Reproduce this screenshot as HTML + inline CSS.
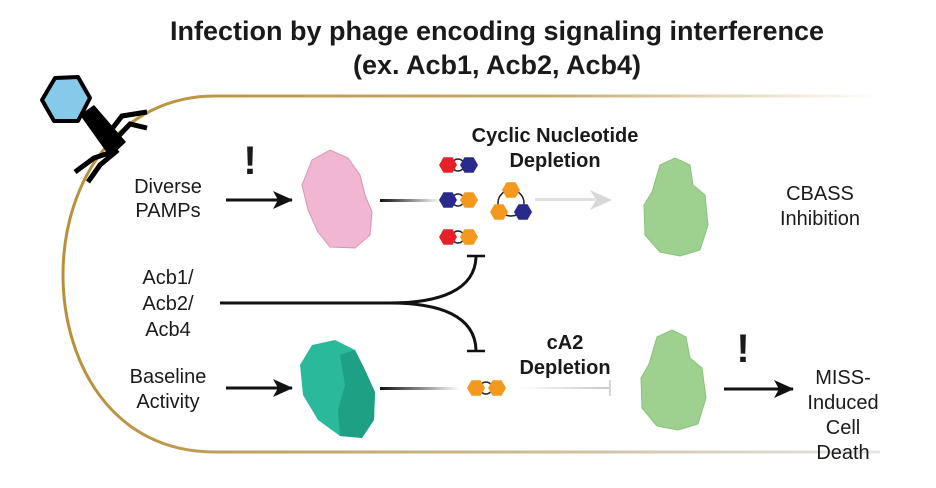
<!DOCTYPE html>
<html><head><meta charset="utf-8"><style>
html,body{margin:0;padding:0;background:#fff;}
svg{display:block;}
text{font-family:"Liberation Sans",Arial,sans-serif;fill:#1a1a1a;}
</style></head><body>
<svg width="936" height="488" viewBox="0 0 936 488" xmlns="http://www.w3.org/2000/svg">
<defs>
<linearGradient id="gTop" x1="0" x2="1" y1="0" y2="0">
<stop offset="0" stop-color="#b8903a"/><stop offset="0.6" stop-color="#c7ab6e"/><stop offset="1" stop-color="#ffffff"/></linearGradient>
<linearGradient id="gBot" x1="0" x2="1"><stop offset="0" stop-color="#b8903a"/><stop offset="0.5" stop-color="#c9b48a"/><stop offset="1" stop-color="#e6e6e6"/></linearGradient>
<linearGradient id="fade" x1="0" x2="1"><stop offset="0" stop-color="#111"/><stop offset="1" stop-color="#fff"/></linearGradient>
<linearGradient id="fadeG" x1="0" x2="1"><stop offset="0" stop-color="#fff"/><stop offset="1" stop-color="#c8c8c8"/></linearGradient>
<polygon id="hx" points="9,0 4.5,7.8 -4.5,7.8 -9,0 -4.5,-7.8 4.5,-7.8"/>
<marker id="ah" markerWidth="20" markerHeight="18" refX="19" refY="9" orient="auto" markerUnits="userSpaceOnUse"><path d="M0,0 L20,9 L0,18 L5,9z" fill="#111"/></marker>
</defs>

<text x="497" y="40" font-size="27" font-weight="bold" text-anchor="middle">Infection by phage encoding signaling interference</text>
<text x="497" y="74" font-size="27" font-weight="bold" text-anchor="middle">(ex. Acb1, Acb2, Acb4)</text>

<!-- cell -->
<path d="M880,96 L215,96 C120,96 63,180 63,275" fill="none" stroke="url(#gTop)" stroke-width="3"/>
<path d="M63,275 C63,360 110,452 215,452 L880,452" fill="none" stroke="url(#gBot)" stroke-width="3"/>

<!-- phage -->
<polygon points="55,78 78,77 90,98 78,121 54,121 42,100" fill="#86c9e8" stroke="#000" stroke-width="4" stroke-linejoin="round"/>
<polygon points="80,115 94,105 126,142 110,157" fill="#000"/>
<path d="M108,134 L122,116 L147,112 M115,140 L130,124 L147,128 M112,152 L94,158 L75,172 M118,150 L100,165 L88,182" stroke="#000" stroke-width="5" fill="none" stroke-linejoin="miter"/>

<!-- Top row -->
<text x="168" y="193" font-size="20" text-anchor="middle">Diverse</text>
<text x="168" y="217" font-size="20" text-anchor="middle">PAMPs</text>
<text x="250" y="174" font-size="40" font-weight="bold" text-anchor="middle">!</text>
<line x1="226" y1="200" x2="292" y2="200" stroke="#111" stroke-width="3" marker-end="url(#ah)"/>
<path d="M312,160 L330,150 L348,158 L360,175 L365,195 L372,212 L370,235 L355,248 L330,247 L318,232 L308,210 L302,185 Z" fill="#f1b6d2" stroke="#d495b3" stroke-width="1"/>
<rect x="380" y="199" width="60" height="3" fill="url(#fade)"/>
<g fill="none" stroke="#222" stroke-width="1.5"><circle cx="458" cy="165" r="6"/><circle cx="458" cy="200" r="6"/><circle cx="458" cy="237" r="6"/><circle cx="511" cy="203" r="13"/></g>
<use href="#hx" x="448" y="165" fill="#e8202a"/><use href="#hx" x="469" y="165" fill="#2a2a8c"/>
<use href="#hx" x="448" y="200" fill="#2a2a8c"/><use href="#hx" x="469" y="200" fill="#f39a1e"/>
<use href="#hx" x="448" y="237" fill="#e8202a"/><use href="#hx" x="469" y="237" fill="#f39a1e"/>
<use href="#hx" x="511" y="190" fill="#f39a1e"/><use href="#hx" x="499" y="212" fill="#f39a1e"/><use href="#hx" x="523" y="212" fill="#2a2a8c"/>
<text x="555" y="142" font-size="20" font-weight="bold" text-anchor="middle">Cyclic Nucleotide</text>
<text x="555" y="167" font-size="20" font-weight="bold" text-anchor="middle">Depletion</text>
<rect x="535" y="198" width="60" height="3" fill="#e0e0e0"/>
<path d="M590,190 L612,200 L590,210 L596,200z" fill="#d8d8d8"/>
<path d="M660,165 L675,158 L690,165 L693,185 L705,195 L708,225 L700,250 L680,256 L660,252 L645,235 L644,205 L652,192 Z" fill="#9ed18f" stroke="#8cc07d"/>
<text x="820" y="200" font-size="20" text-anchor="middle">CBASS</text>
<text x="820" y="225" font-size="20" text-anchor="middle">Inhibition</text>

<!-- Acb -->
<text x="168" y="284" font-size="20" text-anchor="middle">Acb1/</text>
<text x="168" y="310" font-size="20" text-anchor="middle">Acb2/</text>
<text x="168" y="336" font-size="20" text-anchor="middle">Acb4</text>
<path d="M220,303 L390,303 C440,303 475,290 476,257 M390,303 C440,303 475,316 476,350" fill="none" stroke="#111" stroke-width="3"/>
<line x1="467" y1="256" x2="485" y2="256" stroke="#111" stroke-width="2.5"/>
<line x1="467" y1="351" x2="485" y2="351" stroke="#111" stroke-width="2.5"/>

<!-- Bottom row -->
<text x="168" y="383" font-size="20" text-anchor="middle">Baseline</text>
<text x="168" y="408" font-size="20" text-anchor="middle">Activity</text>
<line x1="226" y1="388" x2="292" y2="388" stroke="#111" stroke-width="3" marker-end="url(#ah)"/>
<path d="M312,345 L335,340 L355,350 L365,370 L375,392 L374,420 L362,438 L340,436 L318,420 L303,395 L300,365 Z" fill="#2bb99c"/>
<path d="M340,355 L355,350 L365,370 L375,392 L374,420 L362,438 L340,436 L338,410 L345,385 Z" fill="#1ea085"/>
<rect x="380" y="387" width="80" height="3" fill="url(#fade)"/>
<circle cx="486" cy="388" r="6" fill="none" stroke="#222" stroke-width="1.5"/>
<use href="#hx" x="476" y="388" fill="#f39a1e"/><use href="#hx" x="497" y="388" fill="#f39a1e"/>
<text x="565" y="349" font-size="20" font-weight="bold" text-anchor="middle">cA2</text>
<text x="565" y="374" font-size="20" font-weight="bold" text-anchor="middle">Depletion</text>
<rect x="515" y="387" width="95" height="2" fill="url(#fadeG)"/>
<line x1="610" y1="380" x2="610" y2="396" stroke="#ccc" stroke-width="1.5"/>
<path d="M657,337 L672,330 L686,337 L690,358 L702,368 L706,398 L698,424 L678,430 L657,426 L642,408 L641,378 L649,364 Z" fill="#9ed18f" stroke="#8cc07d"/>
<text x="743" y="362" font-size="40" font-weight="bold" text-anchor="middle">!</text>
<line x1="724" y1="389" x2="793" y2="389" stroke="#111" stroke-width="3" marker-end="url(#ah)"/>
<text x="843" y="384" font-size="20" text-anchor="middle">MISS-</text>
<text x="843" y="409" font-size="20" text-anchor="middle">Induced</text>
<text x="843" y="434" font-size="20" text-anchor="middle">Cell</text>
<text x="843" y="459" font-size="20" text-anchor="middle">Death</text>
</svg>
</body></html>
